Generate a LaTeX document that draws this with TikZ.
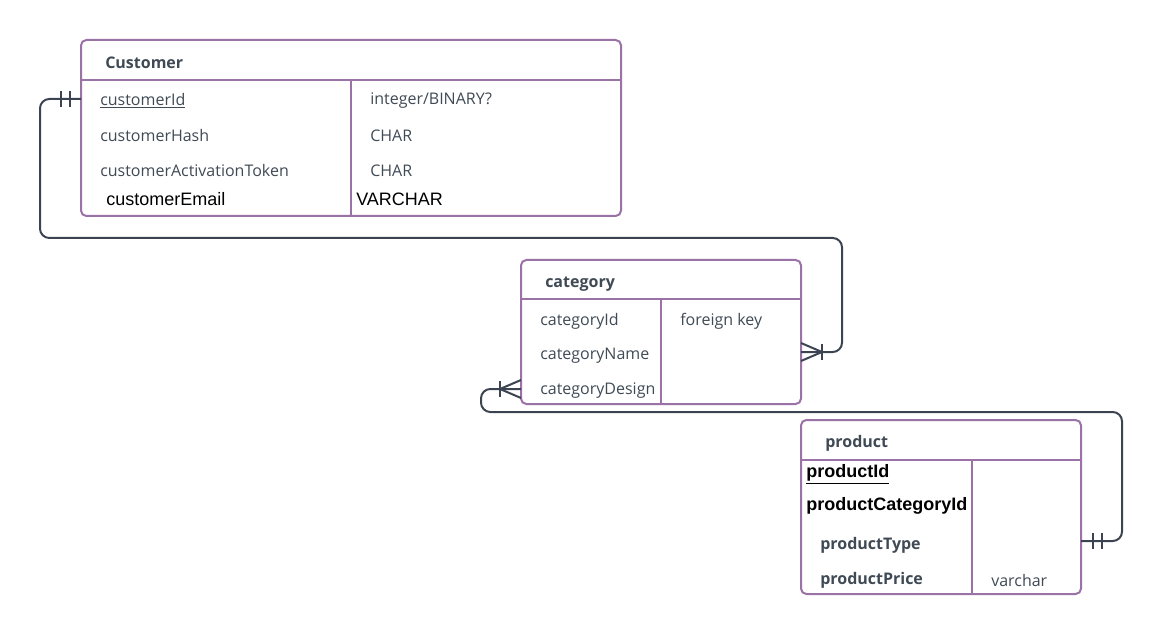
\documentclass[tikz,border=0pt]{standalone}
\usepackage{fontspec}
\setmainfont{Open Sans}
\newfontfamily\arialfont{Liberation Sans}
\usetikzlibrary{positioning}
\definecolor{boxpurple}{HTML}{9B72A6}
\definecolor{linegray}{HTML}{3B4450}
\definecolor{textgray}{HTML}{3F4A55}
\tikzset{
tablebox/.style={draw=boxpurple, line width=1.5pt, rounded corners=4pt},
tableline/.style={draw=boxpurple, line width=1.5pt},
rel/.style={draw=linegray, line width=1.5pt, rounded corners=7pt},
relmark/.style={draw=linegray, line width=1.5pt},
field/.style={anchor=west, text=textgray, inner sep=0pt, yshift=-1.5pt},
arialfield/.style={anchor=west, text=black, inner sep=0pt, yshift=-1pt, font=\arialfont\fontsize{13.5}{15}\selectfont},
tabletitle/.style={field, font=\bfseries\fontsize{12}{14}\selectfont},
}
\tikzstyle{every node}=[font=\fontsize{12}{14}\selectfont]

\begin{document}
\begin{tikzpicture}[x=0.75pt, y=-0.75pt]
        \useasboundingbox (0,0) rectangle (1162,634);

        % Customer
        \draw[tablebox] (81,40) rectangle (621,216);
        \draw[tableline] (81,80) -- (621,80);
        \draw[tableline] (351,80) -- (351,216);
        \node[tabletitle] (custTitle) at (105,61) {Customer};
        \node[field] (custIdName) at (100,99) {\underline{customerId}};
        \node[field] (custIdType) at (370,99) {integer/BINARY?};
        \node[field] (custHashName) at (100,134) {customerHash};
        \node[field] (custHashType) at (370,134) {CHAR};
        \node[field] (custTokenName) at (100,169) {customerActivationToken};
        \node[field] (custTokenType) at (370,169) {CHAR};
        \node[arialfield] (custEmailName) at (106,198) {customerEmail};
        \node[arialfield] (custEmailType) at (356,198) {VARCHAR};

        % category
        \draw[tablebox] (521,260) rectangle (801,404);
        \draw[tableline] (521,299) -- (801,299);
        \draw[tableline] (661,299) -- (661,404);
        \node[tabletitle] (catTitle) at (545,282) {category};
        \node[field] (catIdName) at (540,319) {categoryId};
        \node[field] (catIdType) at (680,319) {foreign key};
        \node[field] (catNameName) at (540,354) {categoryName};
        \node[field] (catDesignName) at (540,389) {categoryDesign};

        % product
        \draw[tablebox] (801,420) rectangle (1081,594);
        \draw[tableline] (801,460) -- (1081,460);
        \draw[tableline] (972,460) -- (972,594);
        \node[tabletitle] (prodTitle) at (825,441) {product};
        \node[arialfield, font=\arialfont\bfseries\fontsize{13.5}{15}\selectfont] (prodIdName) at (806,473) {\underline{productId}};
        \node[arialfield, font=\arialfont\bfseries\fontsize{13.5}{15}\selectfont] (prodCatName) at (806,505) {productCategoryId};
        \node[field, font=\bfseries\fontsize{12}{14}\selectfont] (prodTypeName) at (820,543) {productType};
        \node[field, font=\bfseries\fontsize{12}{14}\selectfont] (prodPriceName) at (820,578) {productPrice};
        \node[field] (prodPriceType) at (991,578) {varchar};

        % ends of the relations
        \coordinate (custEnd) at (81,99);
        \coordinate (catEndR) at (801,352);
        \coordinate (catEndL) at (521,389);
        \coordinate (prodEnd) at (1081,541);

        % Customer -- category
        \draw[rel] (custEnd) -| (40,238) -| (842,352) -- (catEndR);
        \draw[relmark] (custEnd) ++(-11,-8) -- ++(0,16);
        \draw[relmark] (custEnd) ++(-20,-8) -- ++(0,16);
        \draw[relmark] (catEndR) ++(21,-8) -- ++(0,16);
        \draw[relmark] (catEndR) ++(0,-9) -- ++(21,9) -- ++(-21,9);

        % product -- category
        \draw[rel] (prodEnd) -| (1122,412) -| (481,389) -- (catEndL);
        \draw[relmark] (prodEnd) ++(12,-8) -- ++(0,16);
        \draw[relmark] (prodEnd) ++(21,-8) -- ++(0,16);
        \draw[relmark] (catEndL) ++(-21,-8) -- ++(0,16);
        \draw[relmark] (catEndL) ++(0,-9) -- ++(-21,9) -- ++(21,9);
\end{tikzpicture}
\end{document}
